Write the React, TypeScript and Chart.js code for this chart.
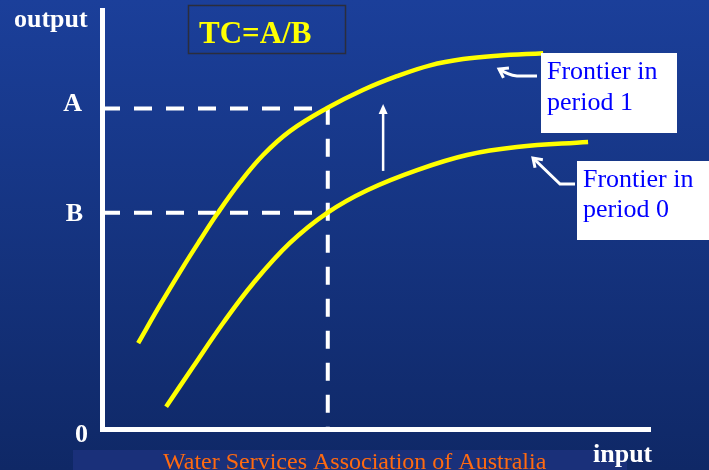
import { useEffect, useRef } from "react";
import { Chart, registerables } from "chart.js";

Chart.register(...registerables);

// Frontier in period 1 (upper curve)
const inputP1 = [6.6, 10.6, 14.8, 17.9, 21.0, 25.2, 29.4, 34.3, 41.1, 47.6, 53.8, 59.9, 65.9, 72.1, 80.5];
const outputP1 = [20.5, 29.6, 38.7, 45.1, 51.3, 58.9, 65.4, 71.1, 76.6, 80.9, 84.2, 86.8, 88.3, 89.1, 89.7];
// Frontier in period 0 (lower curve)
const inputP0 = [11.7, 16.6, 22.1, 27.6, 34.3, 41.1, 48.4, 57.5, 66.6, 75.7, 88.7];
const outputP0 = [5.3, 14.8, 25.3, 34.8, 44.4, 51.6, 57.0, 61.8, 65.4, 67.3, 68.5];
// reference input and output levels
const inputRef = 41.2;
const levelA = 76.5;
const levelB = 51.6;
// upward shift arrow
const shiftArrowX = 51.3;
const shiftArrowFrom = 61.6;
const shiftArrowTo = 77.3;
// labels
const tickLabels = ["A", "B", "0"];
const axisTitles = ["output", "input"];
const frontierLabels = [["Frontier in", "period 1"], ["Frontier in", "period 0"]];
const formulaText = "TC=A/B";
const footerText = "Water Services Association of Australia";

const SERIF = '"Liberation Serif", "Times New Roman", serif';

function drawText(ctx: CanvasRenderingContext2D, s: string, x: number, y: number, font: string, color: string, align: CanvasTextAlign = "left") {
  ctx.save();
  ctx.font = font;
  ctx.fillStyle = color;
  ctx.textAlign = align;
  ctx.textBaseline = "alphabetic";
  ctx.fillText(s, x, y);
  ctx.restore();
}

function chevron(ctx: CanvasRenderingContext2D, fx: number, fy: number, tx: number, ty: number, len: number) {
  const a = Math.atan2(ty - fy, tx - fx);
  const spread = 0.6;
  ctx.beginPath();
  ctx.moveTo(tx - len * Math.cos(a - spread), ty - len * Math.sin(a - spread));
  ctx.lineTo(tx, ty);
  ctx.lineTo(tx - len * Math.cos(a + spread), ty - len * Math.sin(a + spread));
  ctx.stroke();
}

const slidePlugin = {
  id: "slide",
  beforeDraw(chart: any) {
    const { ctx, width, height } = chart;
    const g = ctx.createLinearGradient(0, 0, 0, height);
    g.addColorStop(0, "#1b3f9a");
    g.addColorStop(1, "#0f2866");
    ctx.save();
    ctx.fillStyle = g;
    ctx.fillRect(0, 0, width, height);
    // footer band
    ctx.fillStyle = "#1a307a";
    ctx.fillRect(73, 450, 554, 20);
    ctx.restore();
  },
  afterDraw(chart: any) {
    const { ctx, scales } = chart;
    const xs = scales.x;
    const ys = scales.y;
    const left = chart.chartArea.left;
    const boldF = `bold 26px ${SERIF}`;

    // axis labels
    drawText(ctx, axisTitles[0], 14, 27, boldF, "#ffffff");
    drawText(ctx, axisTitles[1], 593, 462, boldF, "#ffffff");
    drawText(ctx, tickLabels[0], left - 20, ys.getPixelForValue(levelA) + 3, boldF, "#ffffff", "right");
    drawText(ctx, tickLabels[1], left - 19, ys.getPixelForValue(levelB) + 8, boldF, "#ffffff", "right");
    drawText(ctx, tickLabels[2], left - 14, ys.getPixelForValue(0) + 13, boldF, "#ffffff", "right");

    // formula box
    ctx.save();
    ctx.strokeStyle = "#2b2d3c";
    ctx.lineWidth = 1.5;
    ctx.strokeRect(188.5, 5.5, 157, 48);
    ctx.restore();
    drawText(ctx, formulaText, 199, 43, `bold 31px ${SERIF}`, "#ffff00");

    // label boxes
    ctx.save();
    ctx.fillStyle = "#ffffff";
    ctx.fillRect(541, 53, 136, 80);
    ctx.fillRect(577, 161, 132, 79);
    ctx.restore();
    const regF = `26px ${SERIF}`;
    drawText(ctx, frontierLabels[0][0], 547, 79, regF, "#0000ff");
    drawText(ctx, frontierLabels[0][1], 547, 110, regF, "#0000ff");
    drawText(ctx, frontierLabels[1][0], 583, 187, regF, "#0000ff");
    drawText(ctx, frontierLabels[1][1], 583, 217, regF, "#0000ff");

    // pointer arrows to frontiers
    ctx.save();
    ctx.strokeStyle = "#ffffff";
    ctx.lineWidth = 3;
    ctx.lineJoin = "miter";
    ctx.beginPath();
    ctx.moveTo(537, 76);
    ctx.lineTo(517, 76);
    ctx.quadraticCurveTo(508, 75, 499, 69);
    ctx.stroke();
    chevron(ctx, 508, 74, 499, 69, 10);
    ctx.beginPath();
    ctx.moveTo(575, 184);
    ctx.lineTo(560, 184);
    ctx.lineTo(533, 158);
    ctx.stroke();
    chevron(ctx, 560, 184, 533, 158, 10);

    // upward shift arrow
    const ax = xs.getPixelForValue(shiftArrowX);
    const ay0 = ys.getPixelForValue(shiftArrowFrom);
    const ay1 = ys.getPixelForValue(shiftArrowTo);
    ctx.lineWidth = 2.5;
    ctx.beginPath();
    ctx.moveTo(ax, ay0);
    ctx.lineTo(ax, ay1 + 8);
    ctx.stroke();
    ctx.fillStyle = "#ffffff";
    ctx.beginPath();
    ctx.moveTo(ax, ay1 - 1);
    ctx.lineTo(ax - 4.5, ay1 + 9);
    ctx.lineTo(ax + 4.5, ay1 + 9);
    ctx.closePath();
    ctx.fill();
    ctx.restore();

    // footer
    drawText(ctx, footerText, 163, 469, `24px ${SERIF}`, "#ff6a10");
  },
};

export default function App() {
  const ref = useRef<HTMLCanvasElement | null>(null);
  useEffect(() => {
    document.body.style.margin = "0";
    const canvas = ref.current;
    if (!canvas) return;
    const p1 = inputP1.map((x, i) => ({ x, y: outputP1[i] }));
    const p0 = inputP0.map((x, i) => ({ x, y: outputP0[i] }));
    const dashA = [
      { x: 0, y: levelA },
      { x: inputRef, y: levelA },
      { x: inputRef, y: 0 },
    ];
    const dashB = [
      { x: 0, y: levelB },
      { x: inputRef, y: levelB },
    ];
    const chart = new Chart(canvas, {
      type: "line",
      data: {
        datasets: [
          { label: "Frontier in period 1", data: p1, borderColor: "#ffff00", borderWidth: 4.5, pointRadius: 0, tension: 0.4, order: 0, fill: false },
          { label: "Frontier in period 0", data: p0, borderColor: "#ffff00", borderWidth: 4.5, pointRadius: 0, tension: 0.4, order: 0, fill: false },
          { label: "A", data: dashA, borderColor: "#ffffff", borderWidth: 4, borderDash: [18, 14], pointRadius: 0, tension: 0, order: 1, fill: false },
          { label: "B", data: dashB, borderColor: "#ffffff", borderWidth: 4, borderDash: [18, 14], pointRadius: 0, tension: 0, order: 1, fill: false },
        ],
      },
      options: {
        animation: false,
        responsive: false,
        devicePixelRatio: 1,
        layout: { padding: { left: 94, right: 59, top: 10, bottom: 33 } },
        plugins: { legend: { display: false }, tooltip: { enabled: false } },
        scales: {
          x: { type: "linear", min: 0, max: 100, grid: { display: false }, ticks: { display: false }, border: { color: "#ffffff", width: 5 } },
          y: { type: "linear", min: 0, max: 100, grid: { display: false }, ticks: { display: false }, border: { color: "#ffffff", width: 5 } },
        },
      },
      plugins: [slidePlugin],
    } as any);
    return () => chart.destroy();
  }, []);
  return (
    <div style={{ width: 709, height: 470 }}>
      <canvas ref={ref} width={709} height={470} style={{ display: "block" }} />
    </div>
  );
}
